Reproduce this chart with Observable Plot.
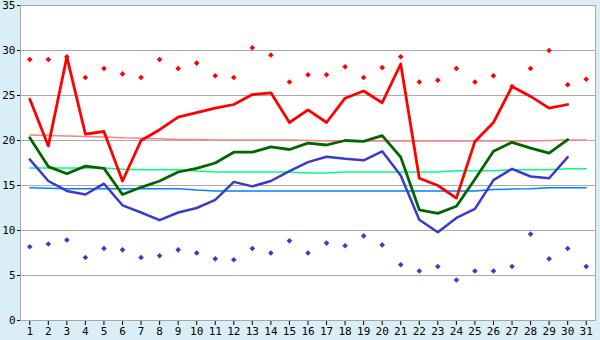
<!DOCTYPE html>
<html><head><meta charset="utf-8">
<script src="https://cdn.jsdelivr.net/npm/d3@7"></script>
<script src="https://cdn.jsdelivr.net/npm/@observablehq/plot@0.6"></script>
<style>
html,body{margin:0;padding:0;background:#d9eef6;}
#chart svg{display:block;}
</style></head><body><div id="chart"></div>
<script>
const days = [1,2,3,4,5,6,7,8,9,10,11,12,13,14,15,16,17,18,19,20,21,22,23,24,25,26,27,28,29,30,31];
const yTicks = [0,5,10,15,20,25,30,35];
const maxTemp = [24.6,19.4,29.3,20.7,21.0,15.5,20.0,21.2,22.6,23.1,23.6,24.0,25.1,25.3,22.0,23.4,22.0,24.7,25.5,24.2,28.5,15.8,15.0,13.6,19.9,22.0,26.0,24.9,23.6,24.0,null];
const meanTemp = [20.3,17.1,16.3,17.15,16.9,14.0,14.8,15.5,16.5,16.9,17.5,18.7,18.7,19.3,19.0,19.7,19.5,20.0,19.9,20.55,18.15,12.3,11.9,12.7,15.7,18.8,19.8,19.15,18.6,20.1,null];
const minTemp = [17.9,15.5,14.4,14.0,15.2,12.8,12.0,11.15,12.0,12.5,13.4,15.4,14.9,15.5,16.6,17.6,18.2,17.96,17.8,18.8,16.1,11.2,9.8,11.4,12.4,15.6,16.85,16.0,15.8,18.15,null];
const recordHigh = [29.0,29.0,29.3,27.0,28.0,27.4,27.0,29.0,28.0,28.6,27.2,27.0,30.3,29.5,26.5,27.3,27.3,28.2,27.0,28.1,29.3,26.5,26.7,28.0,26.5,27.2,26.0,28.0,30.0,26.2,26.8];
const recordLow = [8.2,8.5,8.95,7.0,8.0,7.85,7.0,7.2,7.85,7.5,6.85,6.75,8.0,7.5,8.85,7.5,8.6,8.3,9.4,8.4,6.2,5.5,6.0,4.5,5.5,5.5,6.0,9.6,6.85,8.0,6.0];
const normalMax = [20.6,20.55,20.5,20.45,20.4,20.3,20.25,20.2,20.1,20.1,20.05,20.05,20.05,20.05,20.05,20.0,19.95,19.95,19.95,19.95,19.95,19.95,19.95,19.95,19.95,19.95,19.95,19.95,20.0,20.05,20.05];
const normalMean = [16.95,16.95,16.95,16.95,16.95,16.8,16.75,16.75,16.75,16.6,16.5,16.5,16.5,16.5,16.5,16.4,16.4,16.5,16.5,16.5,16.5,16.5,16.5,16.65,16.65,16.65,16.75,16.75,16.75,16.85,16.85];
const normalMin = [14.75,14.7,14.65,14.65,14.65,14.65,14.65,14.65,14.65,14.5,14.4,14.4,14.4,14.4,14.4,14.4,14.4,14.4,14.4,14.4,14.4,14.4,14.4,14.4,14.4,14.55,14.6,14.65,14.75,14.75,14.75];

const rows = days.map((d, i) => ({
  day: d, max: maxTemp[i], mean: meanTemp[i], min: minTemp[i],
  rh: recordHigh[i], rl: recordLow[i],
  nmax: normalMax[i], nmean: normalMean[i], nmin: normalMin[i]
}));

const diamond = {draw(ctx, size) {
  const r = Math.sqrt(size) * 0.66;
  ctx.moveTo(0, -r); ctx.lineTo(r, 0); ctx.lineTo(0, r); ctx.lineTo(-r, 0); ctx.closePath();
}};

const chart = Plot.plot({
  width: 600, height: 340,
  marginLeft: 20, marginRight: 5, marginTop: 5, marginBottom: 20,
  style: {background: "#d9eef6", fontFamily: "'DejaVu Sans Mono', monospace", fontSize: "11px", color: "#000"},
  x: {type: "linear", domain: [0.5, 31.5], ticks: days, tickFormat: d => String(d), tickSize: 5, tickPadding: 2, label: null},
  y: {domain: [0, 35], ticks: yTicks, tickSize: 3, tickPadding: 2, label: null},
  marks: [
    Plot.frame({fill: "white", stroke: "#a8a8a8"}),
    Plot.ruleY(yTicks.slice(1, -1), {stroke: "#aaaaaa"}),
    Plot.line(rows, {x: "day", y: "nmax", stroke: "#ff8080", strokeWidth: 1.5}),
    Plot.line(rows, {x: "day", y: "nmean", stroke: "#00ff80", strokeWidth: 1.5}),
    Plot.line(rows, {x: "day", y: "nmin", stroke: "#0080ff", strokeWidth: 1.5}),
    Plot.line(rows, {x: "day", y: "min", stroke: "#3a3acc", strokeWidth: 2.5}),
    Plot.line(rows, {x: "day", y: "mean", stroke: "#006600", strokeWidth: 2.8}),
    Plot.line(rows, {x: "day", y: "max", stroke: "#ff0000", strokeWidth: 2.8}),
    Plot.dot(rows, {x: "day", y: "rh", fill: "#ff0000", stroke: null, symbol: diamond, r: 2.4}),
    Plot.dot(rows, {x: "day", y: "rl", fill: "#3a3acc", stroke: null, symbol: diamond, r: 2.4})
  ]
});
document.getElementById("chart").appendChild(chart);
</script>
</body></html>
